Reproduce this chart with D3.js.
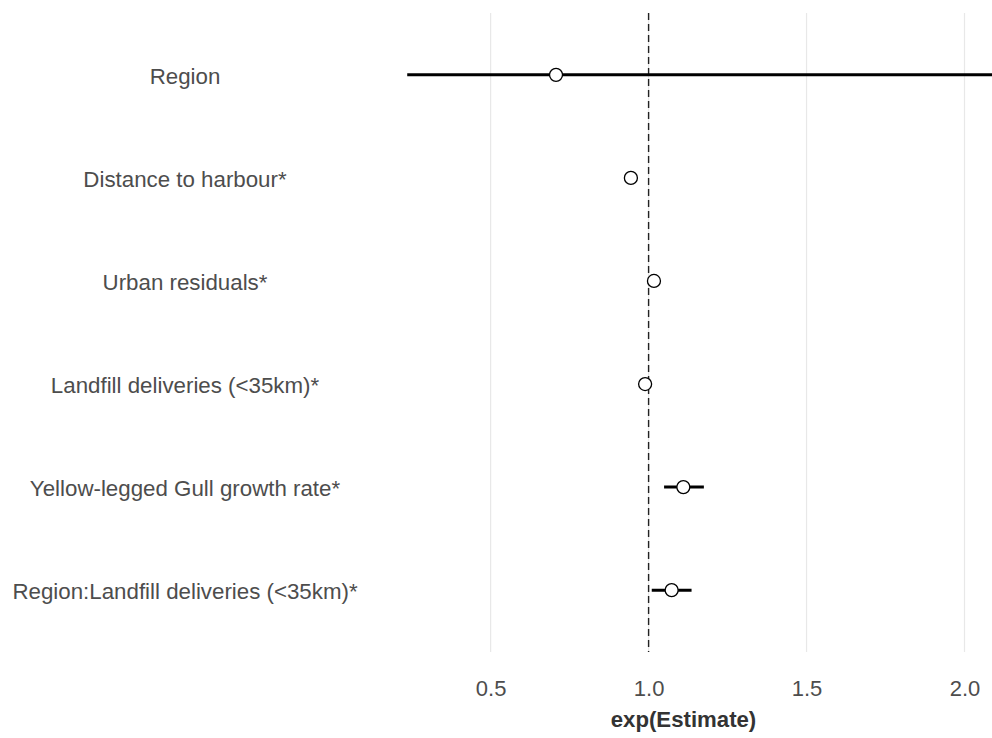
<!DOCTYPE html>
<html><head><meta charset="utf-8">
<script src="https://cdn.jsdelivr.net/npm/d3@7"></script>
<style>
html,body{margin:0;padding:0;background:#fff;}
svg{display:block;font-family:"Liberation Sans",Arial,sans-serif;}
</style></head>
<body>
<svg id="chart" width="992" height="738"></svg>
<script>
const terms = ["Region","Distance to harbour*","Urban residuals*","Landfill deliveries (<35km)*","Yellow-legged Gull growth rate*","Region:Landfill deliveries (<35km)*"];
const estimates = [0.707, 0.944, 1.017, 0.989, 1.110, 1.073];
const lowers = [0.236, 0.930, 1.005, 0.976, 1.049, 1.010];
const uppers = [2.300, 0.958, 1.029, 1.002, 1.175, 1.136];
const xTicks = [0.5, 1.0, 1.5, 2.0];
const xTickLabels = ["0.5","1.0","1.5","2.0"];
const xTitle = "exp(Estimate)";

const svg = d3.select("#chart");
const panel = {left: 375, right: 992, top: 13, bottom: 652};

const x = d3.scaleLinear().domain([0.134, 2.087]).range([panel.left, panel.right]);
const y = d3.scalePoint().domain(terms).range([panel.top, panel.bottom]).padding(0.6);

svg.append("defs").append("clipPath").attr("id","clip")
  .append("rect").attr("x",panel.left).attr("y",panel.top)
  .attr("width",panel.right-panel.left).attr("height",panel.bottom-panel.top);

// gridlines
svg.append("g").selectAll("line").data(xTicks).join("line")
  .attr("x1",d=>x(d)).attr("x2",d=>x(d))
  .attr("y1",panel.top).attr("y2",panel.bottom)
  .attr("stroke","#E8E8E8").attr("stroke-width",1.2);

// reference line
svg.append("line").attr("x1",x(1)).attr("x2",x(1))
  .attr("y1",panel.top).attr("y2",panel.bottom)
  .attr("stroke","#222").attr("stroke-width",1.4).attr("stroke-dasharray","7,4");

const g = svg.append("g").attr("clip-path","url(#clip)");
g.selectAll("line.ci").data(terms).join("line").attr("class","ci")
  .attr("x1",(d,i)=>x(lowers[i])).attr("x2",(d,i)=>x(uppers[i]))
  .attr("y1",d=>y(d)).attr("y2",d=>y(d))
  .attr("stroke","#000").attr("stroke-width",3);
g.selectAll("circle").data(terms).join("circle")
  .attr("cx",(d,i)=>x(estimates[i])).attr("cy",d=>y(d)).attr("r",6.5)
  .attr("fill","#fff").attr("stroke","#000").attr("stroke-width",1.3);

// y labels
svg.append("g").selectAll("text").data(terms).join("text")
  .attr("x",185).attr("y",d=>y(d)+1.5).attr("dy","0.35em")
  .attr("text-anchor","middle").attr("font-size",22.3).attr("fill","#4D4D4D")
  .text(d=>d);

// x axis
const xAxis = d3.axisBottom(x).tickValues(xTicks).tickFormat((d,i)=>xTickLabels[i]).tickSize(0).tickPadding(0);
const ax = svg.append("g").attr("transform",`translate(0,${panel.bottom})`).call(xAxis);
ax.select(".domain").remove();
ax.selectAll("text").attr("y",44).attr("dy","0").attr("font-size",22).attr("fill","#4D4D4D")
  .attr("font-family","Liberation Sans, Arial, sans-serif");

svg.append("text").attr("x",(panel.left+panel.right)/2).attr("y",727)
  .attr("text-anchor","middle").attr("font-size",22.2).attr("font-weight","bold").attr("fill","#333")
  .text(xTitle);
</script>
</body></html>
